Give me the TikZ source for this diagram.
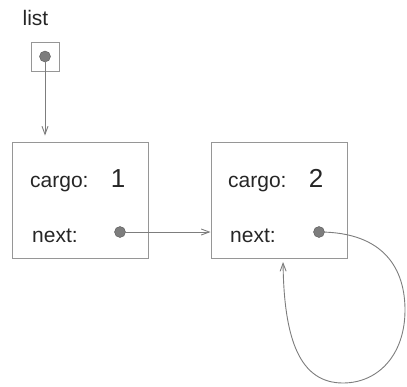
\documentclass[tikz,border=0pt]{standalone}
\usepackage{fontspec}
\setmainfont{Liberation Sans}
\usetikzlibrary{arrows.meta}
\definecolor{boxgray}{RGB}{150,150,150}
\definecolor{ptrgray}{RGB}{125,125,125}
\tikzstyle{cell} = [rectangle, draw=boxgray, line width=1pt, minimum width=136pt, minimum height=116pt]
\tikzstyle{varbox} = [rectangle, draw=boxgray, line width=1pt, minimum width=28pt, minimum height=29pt]
\tikzstyle{ref} = [circle, draw=ptrgray!70!black, fill=ptrgray, minimum size=11pt, inner sep=0pt]
\tikzstyle{field} = [anchor=base west, inner sep=0pt, text=black!85, font=\fontsize{21}{24}\selectfont]
\tikzstyle{value} = [anchor=base, inner sep=0pt, text=black!85, font=\fontsize{26}{30}\selectfont]
\tikzstyle{pointer} = [draw=ptrgray, line width=0.9pt, -{Straight Barb[length=8pt,width=6pt]}]

\begin{document}
\begin{tikzpicture}
[x=1pt, y=-1pt]
\useasboundingbox (0,0) rectangle (407,386);

\node (listname) [anchor=base, inner sep=0pt, text=black!85, font=\fontsize{21}{24}\selectfont] at (35.5,25) {list};
\node (listbox) [varbox] at (45,56.5) {};
\node (listdot) [ref] at (45,56.5) {};

\node (cell1) [cell] at (80,200) {};
\node (cargo1) [field] at (30,187) {cargo:};
\node (val1) [value] at (118,187) {1};
\node (next1) [field] at (32,242) {next:};
\node (dot1) [ref] at (120,232) {};

\node (cell2) [cell] at (279,200.5) {};
\node (cargo2) [field] at (228,187) {cargo:};
\node (val2) [value] at (316,187) {2};
\node (next2) [field] at (230,242) {next:};
\node (dot2) [ref] at (319,232) {};

\draw [pointer, shorten >=6pt] (listdot.center) -- (listdot |- cell1.north);
\draw [pointer] (dot1.center) -- (dot1 -| cell2.west);
\draw [pointer, shorten >=3pt] (dot2.center) .. controls (385,232) and (405,270) .. (405,310)
  .. controls (405,355) and (378,383) .. (343,383)
  .. controls (300,383) and (284,340) .. (cell2.south -| 283,0);

\end{tikzpicture}
\end{document}
